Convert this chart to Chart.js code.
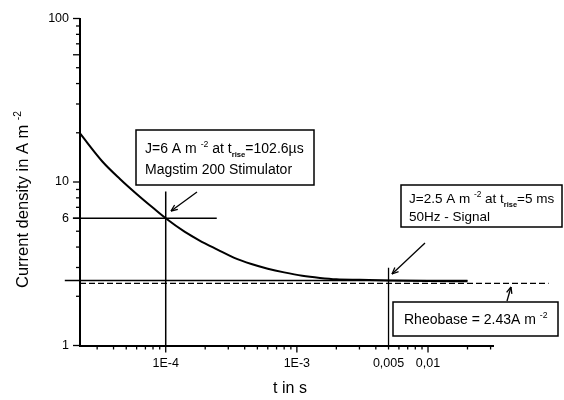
<!DOCTYPE html>
<html>
<head>
<meta charset="utf-8">
<script src="https://cdn.jsdelivr.net/npm/chart.js@4.4.0/dist/chart.umd.min.js"></script>
<style>
body { margin: 0; background: #fff; }
</style>
</head>
<body>
<canvas id="grafico" width="564" height="400"></canvas>
<script>
// strength-duration curve
const riseTimes = [2.22e-5, 3.3e-5, 4.5e-5, 6e-5, 8e-5, 1e-4, 1.4e-4, 1.8e-4, 2.5e-4, 3.3e-4,
	4.5e-4, 6e-4, 8e-4, 1.1e-3, 1.5e-3, 2e-3, 3e-3, 5e-3, 1e-2, 2e-2];
const currentDensity = [19.8, 13.3, 10.4, 8.45, 6.95, 6.0, 4.95, 4.4, 3.85, 3.45,
	3.15, 2.95, 2.8, 2.67, 2.59, 2.54, 2.52, 2.5, 2.48, 2.47];

const xRange = [2.22e-5, 0.0313];
const yRange = [1, 100];
const xTicks = [1e-4, 1e-3, 5e-3, 1e-2];
const xTickLabels = ['1E-4', '1E-3', '0,005', '0,01'];
const yTicks = [1, 6, 10, 100];
const yTickLabels = ['1', '6', '10', '100'];

// marker lines (data units)
const magstimT = [1e-4, 1e-4];
const magstimJ = [8.76, 1];
const sixLineT = [1.96e-5, 2.45e-4];
const sixLineJ = [6, 6];
const signalT = [5e-3, 5e-3];
const signalJ = [2.99, 1];
const levelLineT = [1.7e-5, 2e-2];
const levelLineJ = [2.5, 2.5];
const rheobaseT = [2.22e-5, 0.083];
const rheobaseJ = [2.4, 2.4];

const FONT = '"Liberation Sans", Arial, Helvetica, sans-serif';

function pares(xs, ys) {
	let temp = [];
	xs.map((v, i) => {
		temp.push({ x: v, y: ys[i] });
	});
	return temp;
}

function lineSet(xs, ys, width, dash) {
	return {
		data: pares(xs, ys),
		showLine: true,
		borderColor: '#000',
		borderWidth: width,
		borderDash: dash || [],
		pointRadius: 0,
		clip: false
	};
}

function richText(ctx, parts, x, y, size) {
	let cx = x;
	ctx.textBaseline = 'alphabetic';
	ctx.textAlign = 'left';
	parts.forEach((p) => {
		let fs = size, dy = 0;
		if (p.sup) { fs = size * 0.62; dy = -size * 0.42; }
		if (p.sub) { fs = size * 0.55; dy = size * 0.3; }
		ctx.font = (p.sub ? 'bold ' : '') + fs + 'px ' + FONT;
		ctx.fillText(p.t, cx, y + dy);
		cx += ctx.measureText(p.t).width;
	});
}

function seg(ctx, x1, y1, x2, y2) {
	ctx.beginPath();
	ctx.moveTo(x1, y1);
	ctx.lineTo(x2, y2);
	ctx.stroke();
}

function arrow(ctx, x1, y1, x2, y2) {
	seg(ctx, x1, y1, x2, y2);
	let a = Math.atan2(y2 - y1, x2 - x1);
	let h = 7;
	seg(ctx, x2, y2, x2 - h * Math.cos(a - 0.4), y2 - h * Math.sin(a - 0.4));
	seg(ctx, x2, y2, x2 - h * Math.cos(a + 0.4), y2 - h * Math.sin(a + 0.4));
}

function box(ctx, x1, y1, x2, y2) {
	ctx.fillStyle = '#fff';
	ctx.fillRect(x1, y1, x2 - x1, y2 - y1);
	ctx.strokeRect(x1, y1, x2 - x1, y2 - y1);
	ctx.fillStyle = '#000';
}

const extras = {
	id: 'extras',
	afterDraw(chart) {
		const ctx = chart.ctx;
		const sx = chart.scales.x;
		const sy = chart.scales.y;
		ctx.save();
		ctx.strokeStyle = '#000';
		ctx.fillStyle = '#000';

		// tick marks, major and minor
		ctx.lineWidth = 1.3;
		for (let d = -5; d <= -1; d++) {
			for (let m = 1; m <= 9; m++) {
				let v = m * Math.pow(10, d);
				if (v < xRange[0] * 0.999 || v > xRange[1]) continue;
				let px = sx.getPixelForValue(v);
				seg(ctx, px, sy.bottom, px, sy.bottom + (m === 1 ? 7 : 4));
			}
		}
		for (let d = 0; d <= 2; d++) {
			for (let m = 1; m <= 9; m++) {
				let v = m * Math.pow(10, d);
				if (v > yRange[1]) continue;
				let py = sy.getPixelForValue(v);
				seg(ctx, sx.left, py, sx.left - (m === 1 || m === 6 ? 7 : 4), py);
			}
		}

		// axis titles
		ctx.save();
		ctx.translate(28, 288);
		ctx.rotate(-Math.PI / 2);
		richText(ctx, [{ t: 'Current density in A m ' }, { t: '-2', sup: true }], 0, 0, 16.5);
		ctx.restore();
		ctx.font = '16px ' + FONT;
		ctx.textAlign = 'center';
		ctx.textBaseline = 'middle';
		ctx.fillText('t in s', 290, 389);

		// annotation boxes
		ctx.lineWidth = 1.5;
		box(ctx, 136, 130, 314, 185);
		richText(ctx, [{ t: 'J=6 A m ' }, { t: '-2', sup: true }, { t: ' at t' }, { t: 'rise', sub: true },
			{ t: '=102.6\u00b5s' }], 145, 153, 14);
		richText(ctx, [{ t: 'Magstim 200 Stimulator' }], 145, 174, 14);

		box(ctx, 401, 185, 562, 227);
		richText(ctx, [{ t: 'J=2.5 A m ' }, { t: '-2', sup: true }, { t: ' at t' }, { t: 'rise', sub: true },
			{ t: '=5 ms' }], 409, 203, 13.5);
		richText(ctx, [{ t: '50Hz - Signal' }], 409, 221, 13.5);

		box(ctx, 393, 302, 558, 336);
		richText(ctx, [{ t: 'Rheobase = 2.43A m ' }, { t: '-2', sup: true }], 404, 324, 14);

		// arrows
		ctx.lineWidth = 1.3;
		arrow(ctx, 197, 192, 171, 211);
		arrow(ctx, 425, 243, 392, 274);
		arrow(ctx, 507, 301, 511, 287);

		ctx.restore();
	}
};

function montaGrafico() {
	const ctx = document.getElementById('grafico');
	const curve = lineSet(riseTimes, currentDensity, 2);
	curve.cubicInterpolationMode = 'monotone';

	new Chart(ctx, {
		type: 'scatter',
		data: {
			datasets: [
				lineSet(rheobaseT, rheobaseJ, 1.3, [6, 3]),
				lineSet(levelLineT, levelLineJ, 1.5),
				lineSet(sixLineT, sixLineJ, 1.3),
				lineSet(magstimT, magstimJ, 1.5),
				lineSet(signalT, signalJ, 1.3),
				curve
			]
		},
		options: {
			responsive: false,
			animation: false,
			devicePixelRatio: 1,
			layout: { padding: { top: 15, right: 71, left: 0, bottom: 0 } },
			plugins: {
				legend: { display: false },
				tooltip: { enabled: false }
			},
			scales: {
				x: {
					type: 'logarithmic',
					min: xRange[0],
					max: xRange[1],
					grid: { display: false, drawTicks: false },
					border: { display: true, color: '#000', width: 2 },
					afterBuildTicks: (scale) => {
						scale.ticks = xTicks.map((v) => ({ value: v }));
					},
					afterFit: (scale) => { scale.height = 54.5; },
					ticks: {
						autoSkip: false,
						maxRotation: 0,
						padding: 11,
						color: '#000',
						font: { family: FONT, size: 12.5 },
						callback: (v) => {
							let i = xTicks.findIndex((t) => Math.abs(t - v) / t < 1e-6);
							return i >= 0 ? xTickLabels[i] : '';
						}
					}
				},
				y: {
					type: 'logarithmic',
					min: yRange[0],
					max: yRange[1],
					grid: { display: false, drawTicks: false },
					border: { display: true, color: '#000', width: 2 },
					afterBuildTicks: (scale) => {
						scale.ticks = yTicks.map((v) => ({ value: v }));
					},
					afterFit: (scale) => { scale.width = 80; },
					ticks: {
						autoSkip: false,
						padding: 11,
						color: '#000',
						font: { family: FONT, size: 12.5 },
						callback: (v) => {
							let i = yTicks.indexOf(v);
							return i >= 0 ? yTickLabels[i] : '';
						}
					}
				}
			}
		},
		plugins: [extras]
	});
}

montaGrafico();
</script>
</body>
</html>
